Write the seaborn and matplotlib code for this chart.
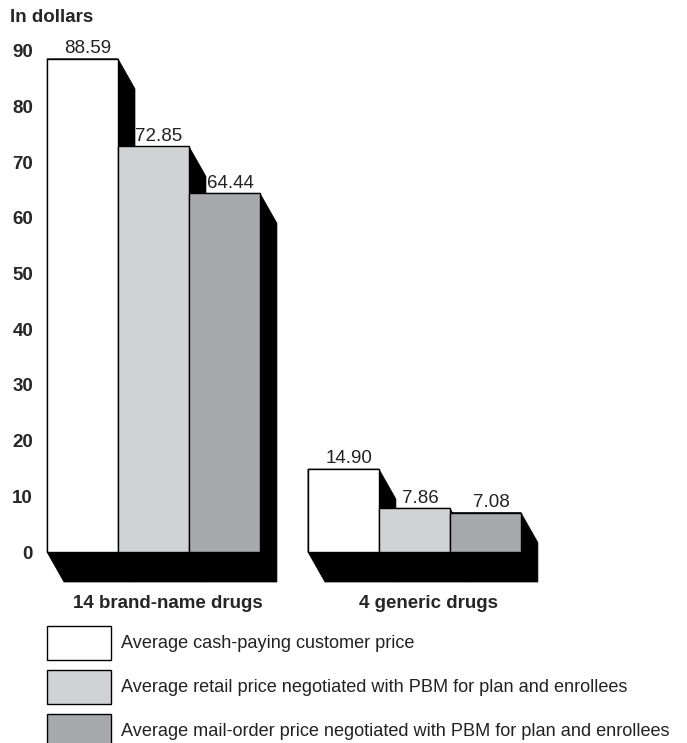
"""Average prices for brand-name and generic drugs, 3-D style grouped bars."""
import matplotlib

matplotlib.use("Agg")
import matplotlib.pyplot as plt
import matplotlib.transforms as mtransforms
import pandas as pd
import seaborn as sns
from matplotlib.patches import Polygon, Rectangle

GROUPS = ["14 brand-name drugs", "4 generic drugs"]
SERIES = [
    "Average cash-paying customer price",
    "Average retail price negotiated with PBM for plan and enrollees",
    "Average mail-order price negotiated with PBM for plan and enrollees",
]
CASH_PRICE = [88.59, 14.90]
RETAIL_PRICE = [72.85, 7.86]
MAIL_PRICE = [64.44, 7.08]
Y_TICKS = [0, 10, 20, 30, 40, 50, 60, 70, 80, 90]

COLORS = ["#ffffff", "#d1d2d4", "#a7a9ac"]

W_PX, H_PX, DPI = 687, 743, 100
GROUP_WIDTH = 0.816
XLIM = (-0.408, 1.508)
YLIM = (-6, 92)
AX_RECT = [47 / W_PX, 0.2121, 500 / W_PX, 0.7343]
SHADOW_PX = (17, 30)
FONT = 13.5
KEY_FONT = 13.1

# legend key layout, in figure pixels (top edge of each key box)
KEY_TOPS_PX = [626, 670, 714]
KEY_LEFT_PX, KEY_W_PX, KEY_H_PX, KEY_TEXT_PX = 47, 64, 34, 121


def build_frame():
    rows = []
    for series, values in zip(SERIES, [CASH_PRICE, RETAIL_PRICE, MAIL_PRICE]):
        for group, v in zip(GROUPS, values):
            rows.append({"group": group, "series": series, "price": v})
    return pd.DataFrame(rows)


def main():
    sns.set_style("white")
    plt.rcParams["font.family"] = ["Liberation Sans", "DejaVu Sans"]

    df = build_frame()
    fig = plt.figure(figsize=(W_PX / DPI, H_PX / DPI), dpi=DPI)
    ax = fig.add_axes(AX_RECT)

    sns.barplot(
        data=df, x="group", y="price", hue="series", order=GROUPS,
        hue_order=SERIES, palette=COLORS, width=GROUP_WIDTH,
        edgecolor="black", linewidth=1, saturation=1, legend=False, ax=ax,
    )
    ax.set_xlim(*XLIM)
    ax.set_ylim(*YLIM)

    # pixel offsets of the black extrusion -> data units
    dx = SHADOW_PX[0] * (XLIM[1] - XLIM[0]) / (AX_RECT[2] * W_PX)
    dy = SHADOW_PX[1] * (YLIM[1] - YLIM[0]) / (AX_RECT[3] * H_PX)

    bars = list(ax.patches)
    for bar in bars:
        bar.set_zorder(2)
        x0 = bar.get_x()
        x1 = x0 + bar.get_width()
        h = bar.get_height()
        ax.add_patch(Polygon(
            [(x0, 0), (x0 + dx, -dy), (x1 + dx, -dy), (x1 + dx, h - dy), (x1, h), (x0, h)],
            closed=True, facecolor="black", edgecolor="black", lw=0.5,
            zorder=1, clip_on=False,
        ))
        ax.annotate(
            f"{h:.2f}", (x0 + bar.get_width() / 2, h), xytext=(4, 4),
            textcoords="offset points", ha="center", va="baseline",
            fontsize=FONT, color="#222222",
        )

    sns.despine(ax=ax, left=True, bottom=True)
    ax.set_yticks(Y_TICKS)
    ax.set_yticklabels([str(t) for t in Y_TICKS], fontweight="bold", fontsize=FONT)
    ax.tick_params(axis="y", length=0, pad=10)
    ax.tick_params(axis="x", length=0, pad=7)
    ax.set_xticks([0, 1])
    ax.set_xticklabels(GROUPS, fontweight="bold", fontsize=FONT)
    shift = mtransforms.ScaledTranslation(14 / DPI, 0, fig.dpi_scale_trans)
    for lbl in ax.get_xticklabels():
        lbl.set_transform(lbl.get_transform() + shift)
    ax.set_xlabel("")
    ax.set_ylabel("")

    fig.text(10 / W_PX, 1 - 17 / H_PX, "In dollars", fontweight="bold",
             fontsize=FONT, va="center", ha="left")

    # legend keys drawn as plain boxes + text below the plot
    for top, color, label in zip(KEY_TOPS_PX, COLORS, SERIES):
        fig.add_artist(Rectangle(
            (KEY_LEFT_PX / W_PX, 1 - (top + KEY_H_PX) / H_PX),
            KEY_W_PX / W_PX, KEY_H_PX / H_PX, transform=fig.transFigure,
            facecolor=color, edgecolor="black", linewidth=1,
        ))
        fig.text(KEY_TEXT_PX / W_PX, 1 - (top + KEY_H_PX / 2) / H_PX, label,
                 fontsize=KEY_FONT, va="center", ha="left", color="#222222")

    fig.savefig("out.png", dpi=DPI)
    plt.close(fig)


if __name__ == "__main__":
    main()
